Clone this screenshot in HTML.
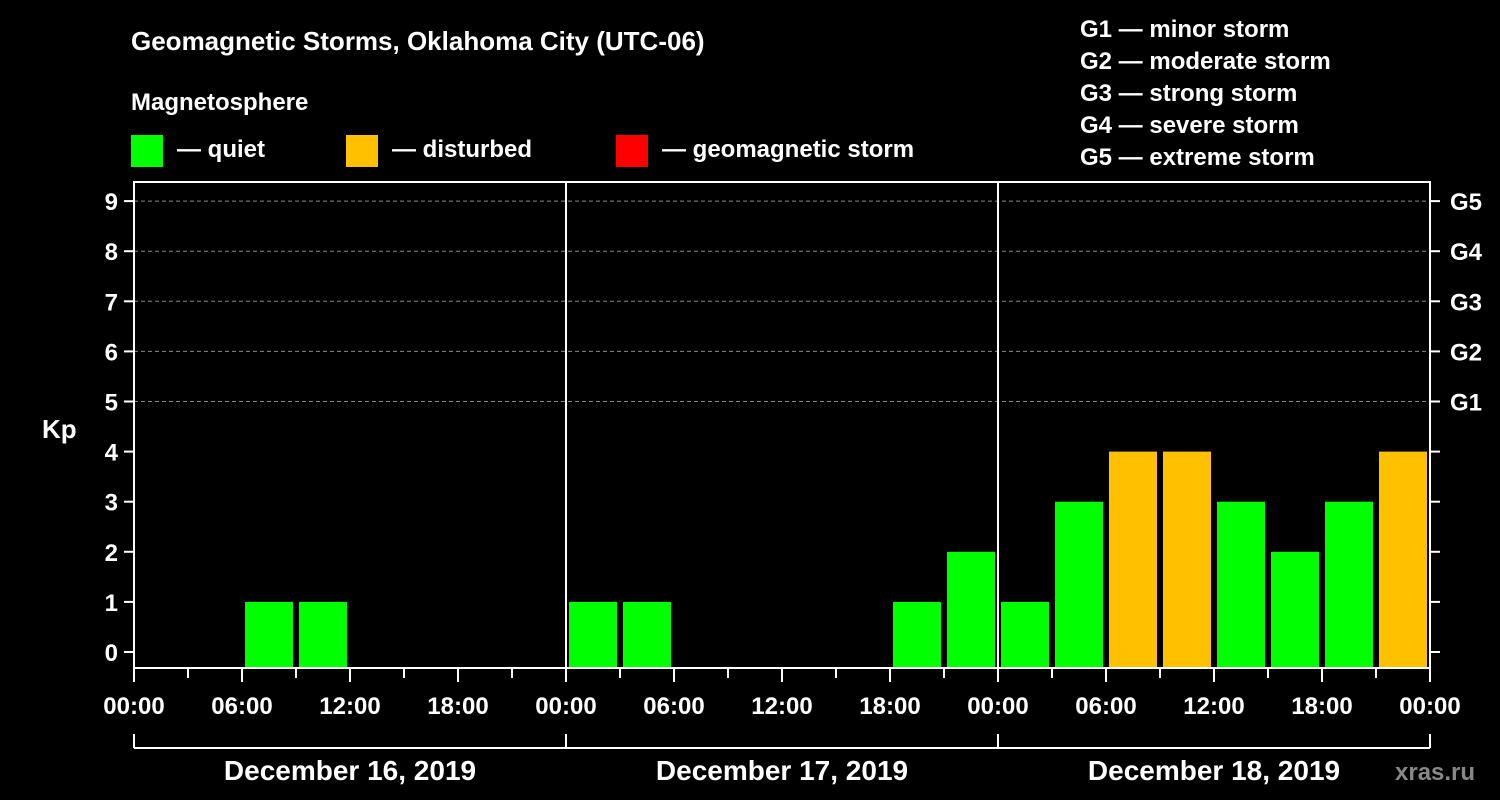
<!DOCTYPE html>
<html><head><meta charset="utf-8"><style>
body{margin:0;background:#000;}
svg{display:block;font-family:"Liberation Sans",Arial,sans-serif;font-weight:bold;}
</style></head><body>
<svg id="c" width="1500" height="800" xmlns="http://www.w3.org/2000/svg">
<rect width="1500" height="800" fill="#000"/>
<text x="131" y="50" fill="#fff" font-size="26">Geomagnetic Storms, Oklahoma City (UTC-06)</text>
<text x="131" y="110" fill="#fff" font-size="24">Magnetosphere</text>
<g><rect x="131" y="135" width="32" height="32" fill="#00ff00"/><text x="177" y="157" fill="#fff" font-size="24">— quiet</text></g>
<g><rect x="346" y="135" width="32" height="32" fill="#ffc000"/><text x="392" y="157" fill="#fff" font-size="24">— disturbed</text></g>
<g><rect x="616" y="135" width="32" height="32" fill="#ff0000"/><text x="662" y="157" fill="#fff" font-size="24">— geomagnetic storm</text></g>
<g fill="#fff" font-size="24">
<text x="1080" y="37">G1 — minor storm</text><text x="1080" y="69">G2 — moderate storm</text><text x="1080" y="101">G3 — strong storm</text><text x="1080" y="133">G4 — severe storm</text><text x="1080" y="165">G5 — extreme storm</text></g>
<text x="42" y="438" fill="#fff" font-size="26">Kp</text>
<text x="1395" y="780" fill="#888" font-size="24">xras.ru</text>
<g id="plot"></g>
</svg>
<script>
const kpValues=[0,0,1,1,0,0,0,0, 1,1,0,0,0,0,1,2, 1,3,4,4,3,2,3,4];
const yTicks=[0,1,2,3,4,5,6,7,8,9];
const gLabels=["G1","G2","G3","G4","G5"];
const gLevels=[5,6,7,8,9];
const xTickLabels=["00:00","06:00","12:00","18:00","00:00","06:00","12:00","18:00","00:00","06:00","12:00","18:00","00:00"];
const dayLabels=["December 16, 2019","December 17, 2019","December 18, 2019"];

const NS="http://www.w3.org/2000/svg";
const g=document.getElementById('plot');
const L=134,R=1430,T=182,B=668;
const y=v=>652-v*50.1;
const x=h=>L+(R-L)*h/72;
function mk(t,a){const e=document.createElementNS(NS,t);for(const k in a)e.setAttribute(k,a[k]);g.appendChild(e);return e;}
gLevels.forEach(v=>{const e=mk('line',{x1:L,x2:R,y1:y(v),y2:y(v),stroke:'#888','stroke-dasharray':'4,3'});

});
kpValues.forEach((v,i)=>{if(v<=0)return;const top=y(v);
const e=mk('rect',{x:x(i*3)+3,y:top,width:48,height:B-top,fill:v>=5?'#ff0000':(v>=4?'#ffc000':'#00ff00')});

});
[1,2].forEach(d=>{const e=mk('line',{x1:x(d*24),x2:x(d*24),y1:T,y2:B,stroke:'#fff','stroke-width':2});

});
const fr=mk('rect',{x:L,y:T,width:R-L,height:B-T,fill:'none',stroke:'#fff','stroke-width':2});


yTicks.forEach(v=>{mk('line',{x1:L-10,x2:L,y1:y(v),y2:y(v),stroke:'#fff','stroke-width':2});
mk('line',{x1:R,x2:R+10,y1:y(v),y2:y(v),stroke:'#fff','stroke-width':2});
const t=mk('text',{x:L-16,y:y(v)+9,fill:'#fff','font-size':24,'text-anchor':'end'});t.textContent=v;

});
gLabels.forEach((s,i)=>{const t=mk('text',{x:1450,y:y(gLevels[i])+9,fill:'#fff','font-size':24});t.textContent=s;

});
for(let h=0;h<=72;h+=3){mk('line',{x1:x(h),x2:x(h),y1:B,y2:B+(h%6==0?14:10),stroke:'#fff','stroke-width':2});}
xTickLabels.forEach((s,i)=>{const t=mk('text',{x:x(i*6),y:714,fill:'#fff','font-size':24,'text-anchor':'middle'});t.textContent=s;

});
mk('line',{x1:L,x2:R,y1:748,y2:748,stroke:'#fff','stroke-width':2});
for(let d=0;d<=3;d++)mk('line',{x1:x(d*24),x2:x(d*24),y1:734,y2:748,stroke:'#fff','stroke-width':2});
dayLabels.forEach((s,i)=>{const t=mk('text',{x:x(i*24+12),y:780,fill:'#fff','font-size':28,'text-anchor':'middle'});t.textContent=s;

});
</script>
</body></html>
